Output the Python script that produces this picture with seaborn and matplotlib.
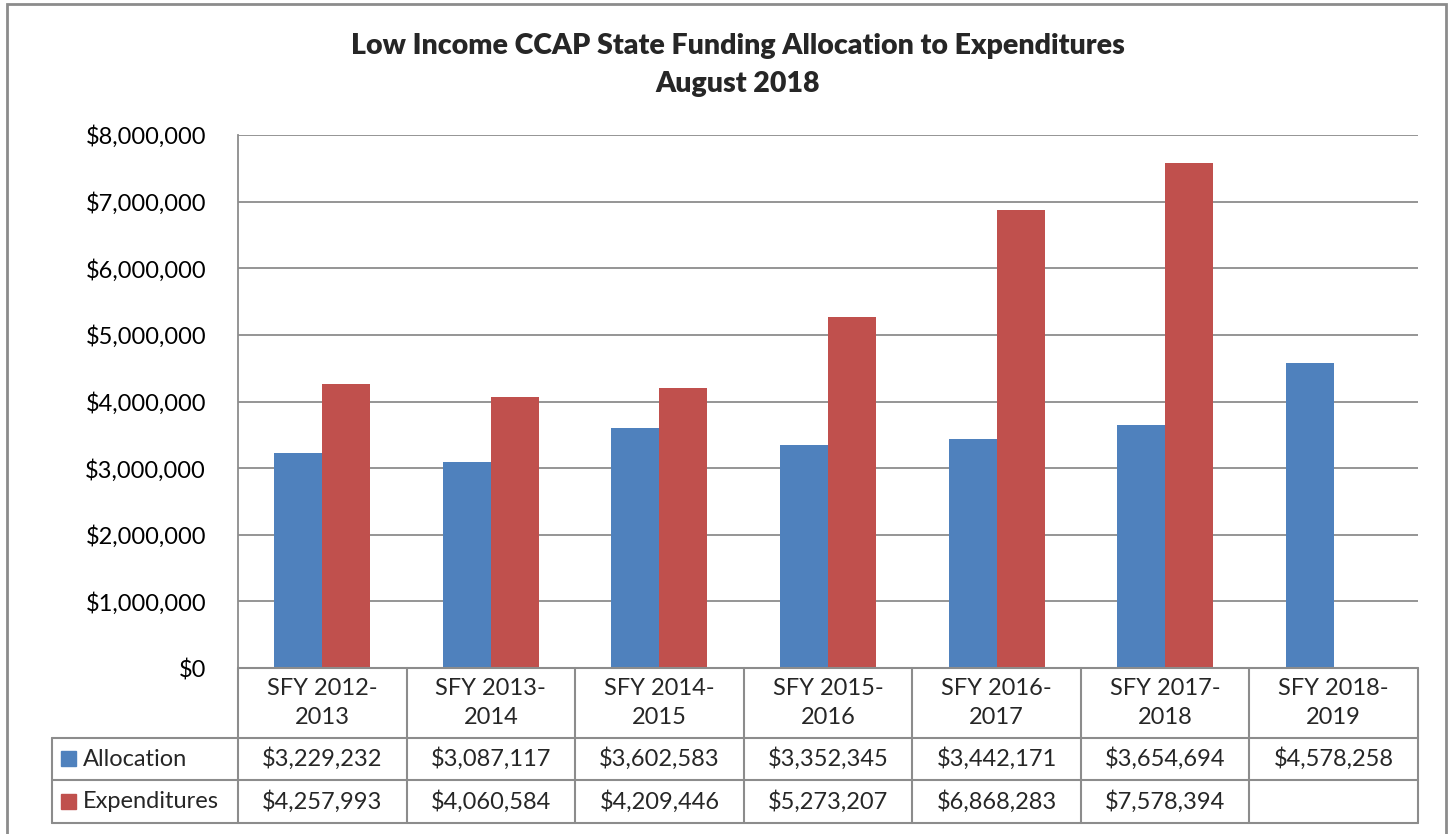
import numpy as np
import pandas as pd
import matplotlib
matplotlib.use("Agg")
import matplotlib.pyplot as plt
import seaborn as sns
from matplotlib.lines import Line2D
from matplotlib.patches import Rectangle
from matplotlib.ticker import FuncFormatter, MultipleLocator

# Data
categories = ["SFY 2012-\n2013", "SFY 2013-\n2014", "SFY 2014-\n2015", "SFY 2015-\n2016",
              "SFY 2016-\n2017", "SFY 2017-\n2018", "SFY 2018-\n2019"]
allocation = [3229232, 3087117, 3602583, 3352345, 3442171, 3654694, 4578258]
expenditures = [4257993, 4060584, 4209446, 5273207, 6868283, 7578394, np.nan]
series_names = ["Allocation", "Expenditures"]
colors = ["#4F81BD", "#C0504D"]

df = pd.DataFrame({
    "cat": categories * 2,
    "series": [series_names[0]] * len(categories) + [series_names[1]] * len(categories),
    "value": allocation + expenditures,
})

sns.set_theme(style="white")
plt.rcParams["font.family"] = ["Lato", "DejaVu Sans"]

W, H = 1450, 834
fig = plt.figure(figsize=(W / 100, H / 100), dpi=100)

# plot area in pixel coords
px_l, px_r, px_t, px_b = 238, 1418, 135, 668
ax = fig.add_axes([px_l / W, 1 - px_b / H, (px_r - px_l) / W, (px_b - px_t) / H])

sns.barplot(data=df, x="cat", y="value", hue="series", palette=colors,
            width=0.57, dodge=True, saturation=1, ax=ax, legend=False,
            edgecolor="none", linewidth=0)

ax.set_ylim(0, 8000000)
ax.set_xlim(-0.5, len(categories) - 0.5)
ax.yaxis.set_major_locator(MultipleLocator(1000000))
ax.yaxis.set_major_formatter(FuncFormatter(lambda v, p: f"${v:,.0f}"))
ax.grid(axis="y", color="#8C8C8C", linewidth=1.3)
ax.set_axisbelow(True)
for s in ["top", "right", "bottom"]:
    ax.spines[s].set_visible(False)
ax.spines["left"].set_color("#8C8C8C")
ax.spines["left"].set_linewidth(1.3)
ax.tick_params(axis="y", labelsize=17, length=0, pad=23, labelcolor="black")
ax.set_xticks([])
ax.set_xlabel("")
ax.set_ylabel("")

# title
fig.text(738 / W, 1 - 46 / H, "Low Income CCAP State Funding Allocation to Expenditures",
         ha="center", va="center", fontsize=20.5, fontweight="heavy")
fig.text(738 / W, 1 - 84 / H, "August 2018", ha="center", va="center",
         fontsize=20.5, fontweight="heavy")

# data table below the chart (pixel coordinates)
line_c = "#8C8C8C"
def hline(x0, x1, y, lw=1.5):
    fig.add_artist(Line2D([x0 / W, x1 / W], [1 - y / H, 1 - y / H], color=line_c, lw=lw))
def vline(x, y0, y1, lw=1.5):
    fig.add_artist(Line2D([x / W, x / W], [1 - y0 / H, 1 - y1 / H], color=line_c, lw=lw))

tab_l = 52
row_y = [668, 738, 780, 823]
col_w = (px_r - px_l) / len(categories)
hline(px_l, px_r, row_y[0])
for y in row_y[1:]:
    hline(tab_l, px_r, y)
vline(tab_l, row_y[1], row_y[3])
for i in range(len(categories) + 1):
    vline(px_l + i * col_w, row_y[0], row_y[3])

for i, c in enumerate(categories):
    cx = px_l + (i + 0.5) * col_w
    fig.text(cx / W, 1 - (row_y[0] + row_y[1]) / 2 / H, c, ha="center", va="center",
             fontsize=17, linespacing=1.45)
    for r, vals in enumerate([allocation, expenditures]):
        v = vals[i]
        if not np.isnan(v):
            fig.text(cx / W, 1 - (row_y[r + 1] + row_y[r + 2]) / 2 / H, f"${v:,.0f}",
                     ha="center", va="center", fontsize=17)

for r, name in enumerate(series_names):
    yc = (row_y[r + 1] + row_y[r + 2]) / 2
    fig.add_artist(Rectangle((61 / W, 1 - (yc + 7) / H), 15 / W, 15 / H,
                             transform=fig.transFigure, color=colors[r]))
    fig.text(83 / W, 1 - yc / H, name, ha="left", va="center", fontsize=17)

# outer border
fig.add_artist(Rectangle((7 / W, 1 - 840 / H), 1439 / W, 836 / H, transform=fig.transFigure,
                         fill=False, edgecolor=line_c, lw=2))

fig.savefig("out.png", dpi=100)
